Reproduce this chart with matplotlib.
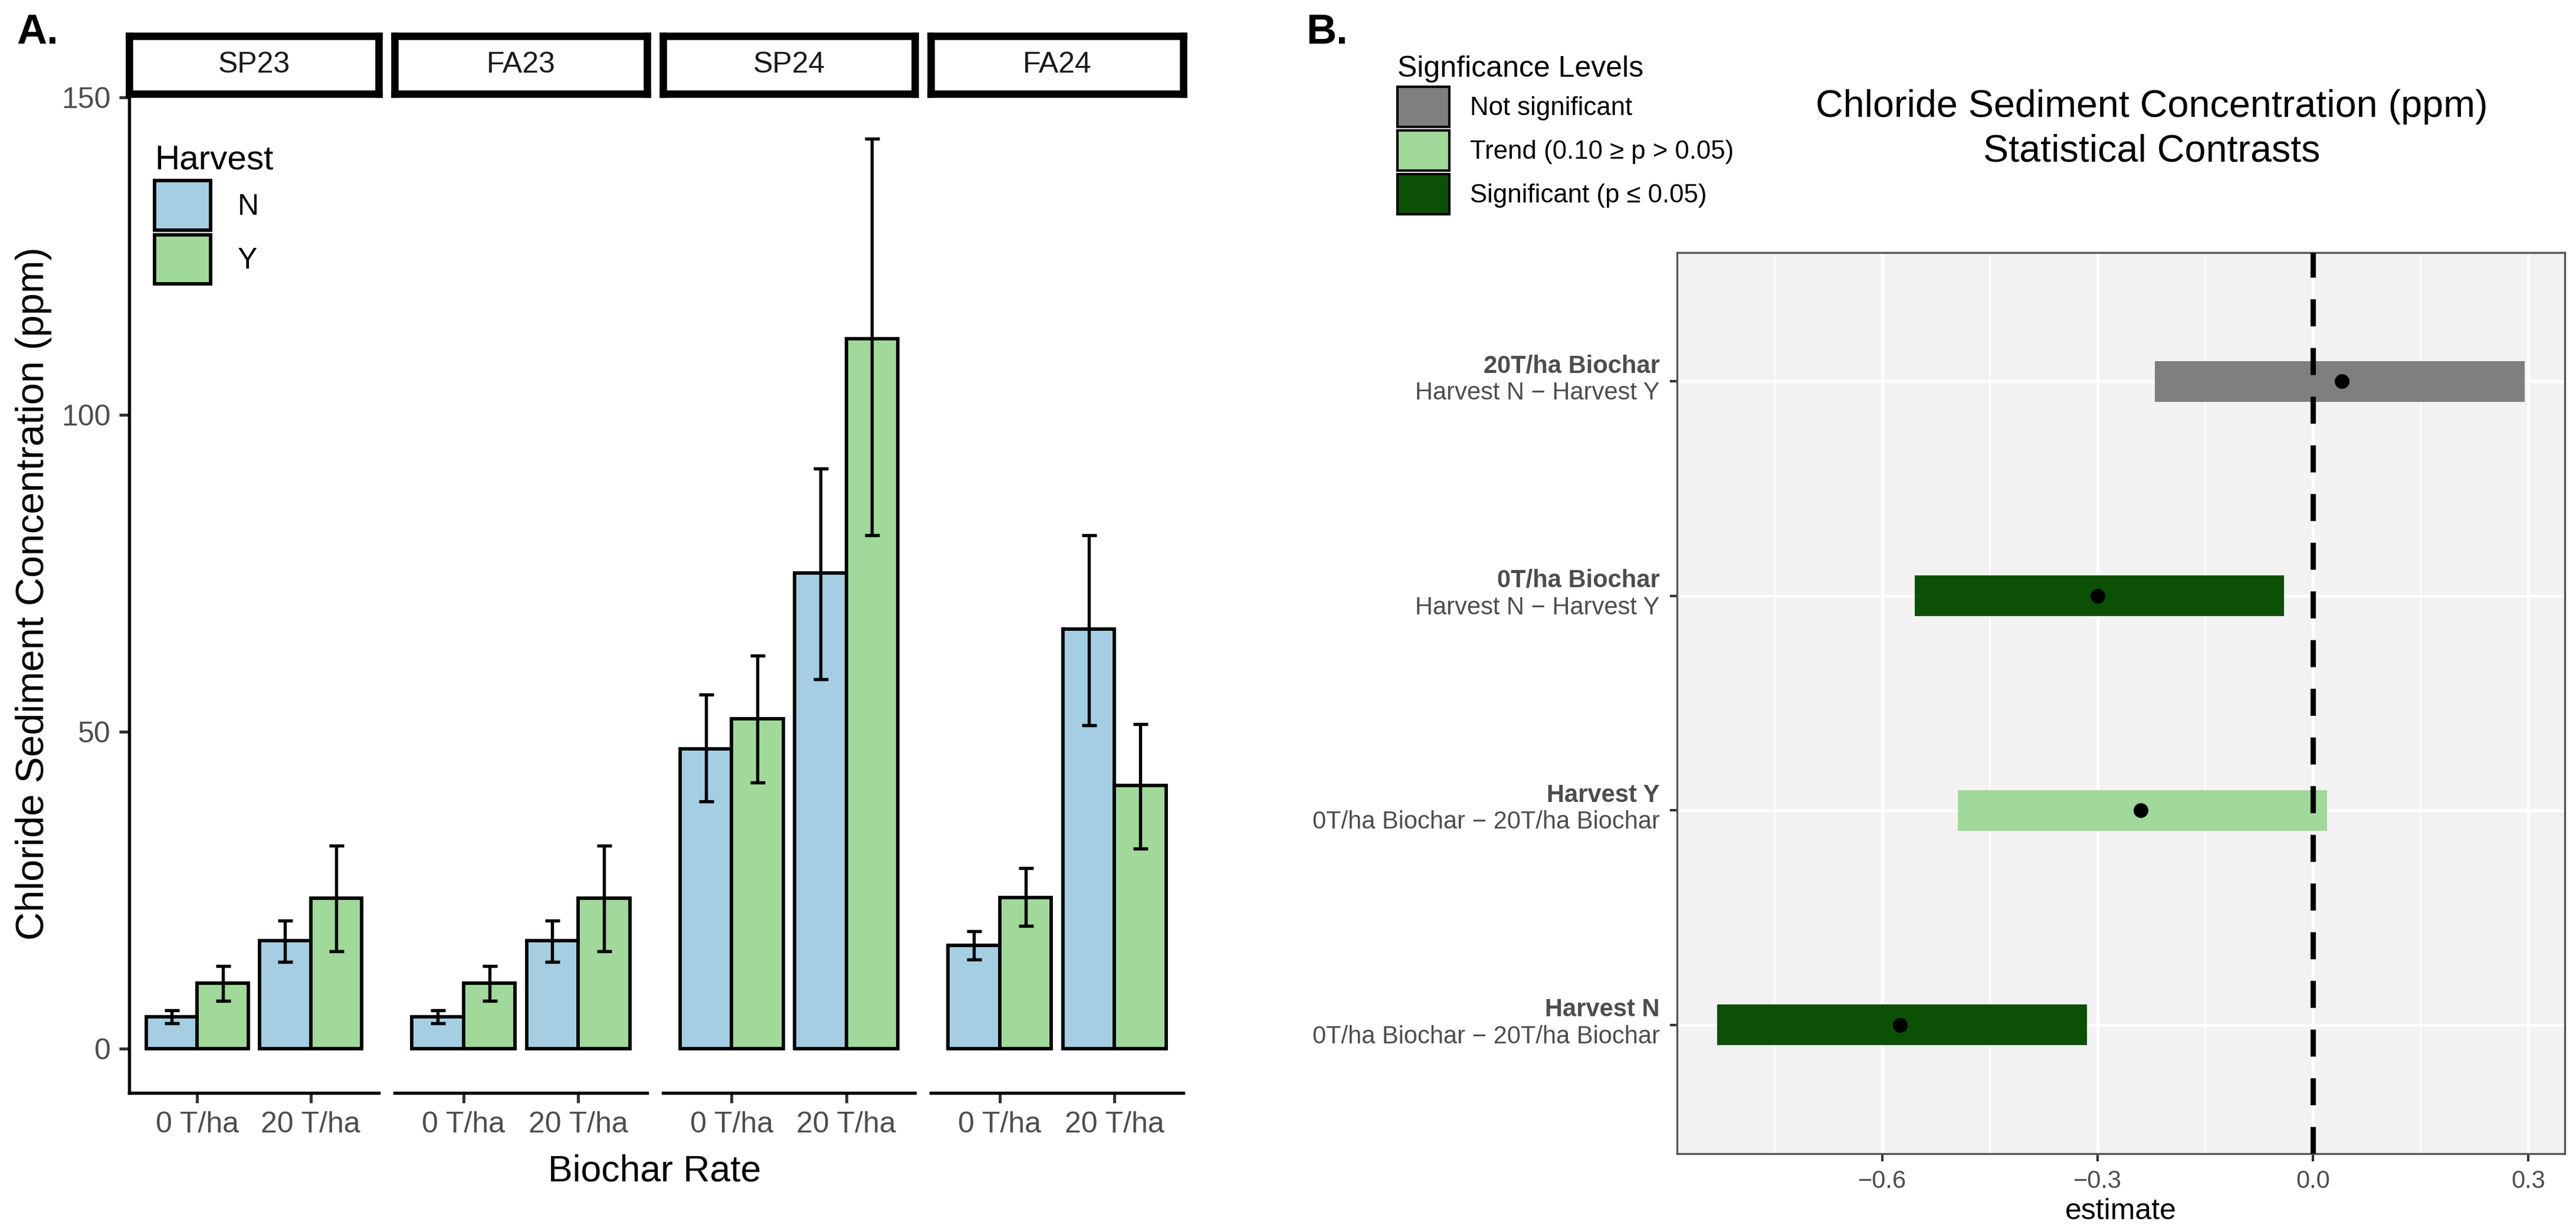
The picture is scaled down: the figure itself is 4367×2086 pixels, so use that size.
import matplotlib
matplotlib.use("Agg")
import matplotlib.pyplot as plt
from matplotlib.patches import Rectangle
import matplotlib.transforms as mtransforms

plt.rcParams['font.family'] = ['Liberation Sans', 'DejaVu Sans']

seasons = ["SP23", "FA23", "SP24", "FA24"]
rates = ["0 T/ha", "20 T/ha"]
harvest = ["N", "Y"]
# mean[season][rate][harvest]
means = {
    "SP23": [[5.0, 10.3], [17.0, 23.7]],
    "FA23": [[5.0, 10.3], [17.0, 23.7]],
    "SP24": [[47.3, 52.0], [75.0, 112.0]],
    "FA24": [[16.3, 23.8], [66.2, 41.5]],
}
lows = {
    "SP23": [[4.0, 7.5], [13.7, 15.3]],
    "FA23": [[4.0, 7.5], [13.7, 15.3]],
    "SP24": [[39.0, 42.0], [58.3, 81.0]],
    "FA24": [[14.0, 19.3], [51.0, 31.5]],
}
highs = {
    "SP23": [[6.0, 13.0], [20.2, 32.0]],
    "FA23": [[6.0, 13.0], [20.2, 32.0]],
    "SP24": [[55.8, 62.0], [91.5, 143.5]],
    "FA24": [[18.5, 28.5], [81.0, 51.2]],
}
harvest_colors = ["#A6CEE3", "#A1D99B"]

contrast_main = ["Harvest N", "Harvest Y", "0T/ha Biochar", "20T/ha Biochar"]
contrast_sub = ["0T/ha Biochar \u2212 20T/ha Biochar", "0T/ha Biochar \u2212 20T/ha Biochar",
                "Harvest N \u2212 Harvest Y", "Harvest N \u2212 Harvest Y"]
estimate = [-0.575, -0.24, -0.30, 0.04]
ci_low = [-0.83, -0.495, -0.555, -0.22]
ci_high = [-0.315, 0.02, -0.04, 0.295]
signif = ["Significant (p \u2264 0.05)", "Trend (0.10 \u2265 p > 0.05)",
          "Significant (p \u2264 0.05)", "Not significant"]
sig_levels = ["Not significant", "Trend (0.10 \u2265 p > 0.05)", "Significant (p \u2264 0.05)"]
sig_colors = {"Not significant": "#7F7F7F", "Trend (0.10 \u2265 p > 0.05)": "#A1D99B",
              "Significant (p \u2264 0.05)": "#0C5006"}

W, H = 4367, 2086
fig = plt.figure(figsize=(W/300, H/300), dpi=300)

def fx(px): return px / W
def fy(py): return 1 - py / H

# ---- Panel A ----
panels = [(219, 642), (669, 1097), (1124, 1551), (1578, 2006)]
top, bot = 159, 1852
bw = 0.45
for i, s in enumerate(seasons):
    l, r = panels[i]
    ax = fig.add_axes([fx(l), fy(bot), fx(r - l), (bot - top) / H])
    for ri in range(2):
        for hi in range(2):
            xc = ri + 1 + (hi - 0.5) * bw
            ax.bar(xc, means[s][ri][hi], width=bw, color=harvest_colors[hi],
                   edgecolor="black", linewidth=1.4, zorder=2)
            m = means[s][ri][hi]
            ax.errorbar(xc, m, yerr=[[m - lows[s][ri][hi]], [highs[s][ri][hi] - m]],
                        fmt="none", ecolor="black", elinewidth=1.3, capsize=3, capthick=1.3, zorder=3)
    ax.set_xlim(0.4, 2.6)
    ax.set_ylim(-7, 150.6)
    ax.set_xticks([1, 2])
    ax.set_xticklabels(rates, fontsize=12, color="#4D4D4D")
    for sp in ["top", "right"]:
        ax.spines[sp].set_visible(False)
    ax.spines["bottom"].set_linewidth(1.3)
    ax.spines["left"].set_linewidth(1.3)
    ax.tick_params(axis="both", length=4, width=1.2, colors="#333333", labelcolor="#4D4D4D")
    if i == 0:
        ax.set_yticks([0, 50, 100, 150])
        ax.set_yticklabels(["0", "50", "100", "150"], fontsize=12)
        ax.set_ylabel("Chloride Sediment Concentration (ppm)", fontsize=16)
        handles = [Rectangle((0, 0), 1, 1, facecolor=c, edgecolor="black", linewidth=1.4) for c in harvest_colors]
        leg = ax.legend(handles, harvest, title="Harvest", loc="upper left", bbox_to_anchor=(0.02, 0.97),
                        frameon=False, fontsize=12, title_fontsize=14, handlelength=1.9, handleheight=2.2,
                        handletextpad=0.9, labelspacing=0.15, borderaxespad=0.3)
        leg._legend_box.align = "left"
    else:
        ax.spines["left"].set_visible(False)
        ax.set_yticks([])
    # strip
    sax = fig.add_axes([fx(l), fy(159), fx(r - l), (159 - 61) / H])
    sax.set_xticks([]); sax.set_yticks([])
    for sp in sax.spines.values():
        sp.set_linewidth(3.0)
    sax.text(0.5, 0.5, s, ha="center", va="center", fontsize=12, color="#1A1A1A")
    sax.set_facecolor("white")

fig.text(fx(1110), fy(1985), "Biochar Rate", ha="center", va="center", fontsize=15)
fig.text(fx(28), fy(56), "A.", ha="left", va="center", fontsize=17, fontweight="bold")

# ---- Panel B ----
bax = fig.add_axes([fx(2843), fy(1955), fx(4348 - 2843), (1955 - 428) / H])
bax.set_facecolor("#F2F2F2")
bax.set_xlim(-0.886, 0.351)
bax.set_ylim(0.4, 4.6)
for v in [-0.75, -0.45, -0.15, 0.15]:
    bax.axvline(v, color="white", linewidth=0.6, zorder=0)
for v in [-0.6, -0.3, 0.0, 0.3]:
    bax.axvline(v, color="white", linewidth=1.2, zorder=0)
ypos = [1, 2, 3, 4]
for y in ypos:
    bax.axhline(y, color="white", linewidth=1.2, zorder=0)
for y, lo, hi, est, sg in zip(ypos, ci_low, ci_high, estimate, signif):
    bax.barh(y, hi - lo, left=lo, height=0.19, color=sig_colors[sg], zorder=2)
    bax.plot(est, y, "o", color="black", markersize=5, zorder=4)
bax.axvline(0, color="black", linewidth=2.2, linestyle=(0, (5, 4)), zorder=3)
bax.set_xticks([-0.6, -0.3, 0.0, 0.3])
bax.set_xticklabels(["\u22120.6", "\u22120.3", "0.0", "0.3"], fontsize=10)
bax.set_xlabel("estimate", fontsize=12, labelpad=2)
bax.set_yticks(ypos)
bax.set_yticklabels([""] * 4)
bax.tick_params(axis="both", length=3, width=1.0, colors="#333333", labelcolor="#4D4D4D")
for sp in bax.spines.values():
    sp.set_color("#555555"); sp.set_linewidth(0.8)
trans = mtransforms.blended_transform_factory(bax.transAxes, bax.transData)
off = mtransforms.offset_copy(trans, fig=fig, x=-7, y=0, units="points")
for y, mn, sb in zip(ypos, contrast_main, contrast_sub):
    bax.text(0, y + 0.015, mn, transform=off, ha="right", va="bottom", fontsize=10,
             fontweight="bold", color="#4D4D4D")
    bax.text(0, y + 0.0, sb, transform=off, ha="right", va="top", fontsize=10, color="#4D4D4D")

fig.text(fx(3648), fy(181), "Chloride Sediment Concentration (ppm)", ha="center", va="center", fontsize=15.5)
fig.text(fx(3648), fy(256), "Statistical Contrasts", ha="center", va="center", fontsize=15.5)
fig.text(fx(2214), fy(56), "B.", ha="left", va="center", fontsize=17, fontweight="bold")

handles = [Rectangle((0, 0), 1, 1, facecolor=sig_colors[k], edgecolor="black", linewidth=1.0) for k in sig_levels]
fig.legend(handles, sig_levels, title="Signficance Levels", loc="upper left",
           bbox_to_anchor=(fx(2330), fy(55)), frameon=False, fontsize=10.5, title_fontsize=12,
           handlelength=2.0, handleheight=2.0, handletextpad=0.8, labelspacing=0.15,
           alignment="left")

fig.savefig("out.png", dpi=300)
